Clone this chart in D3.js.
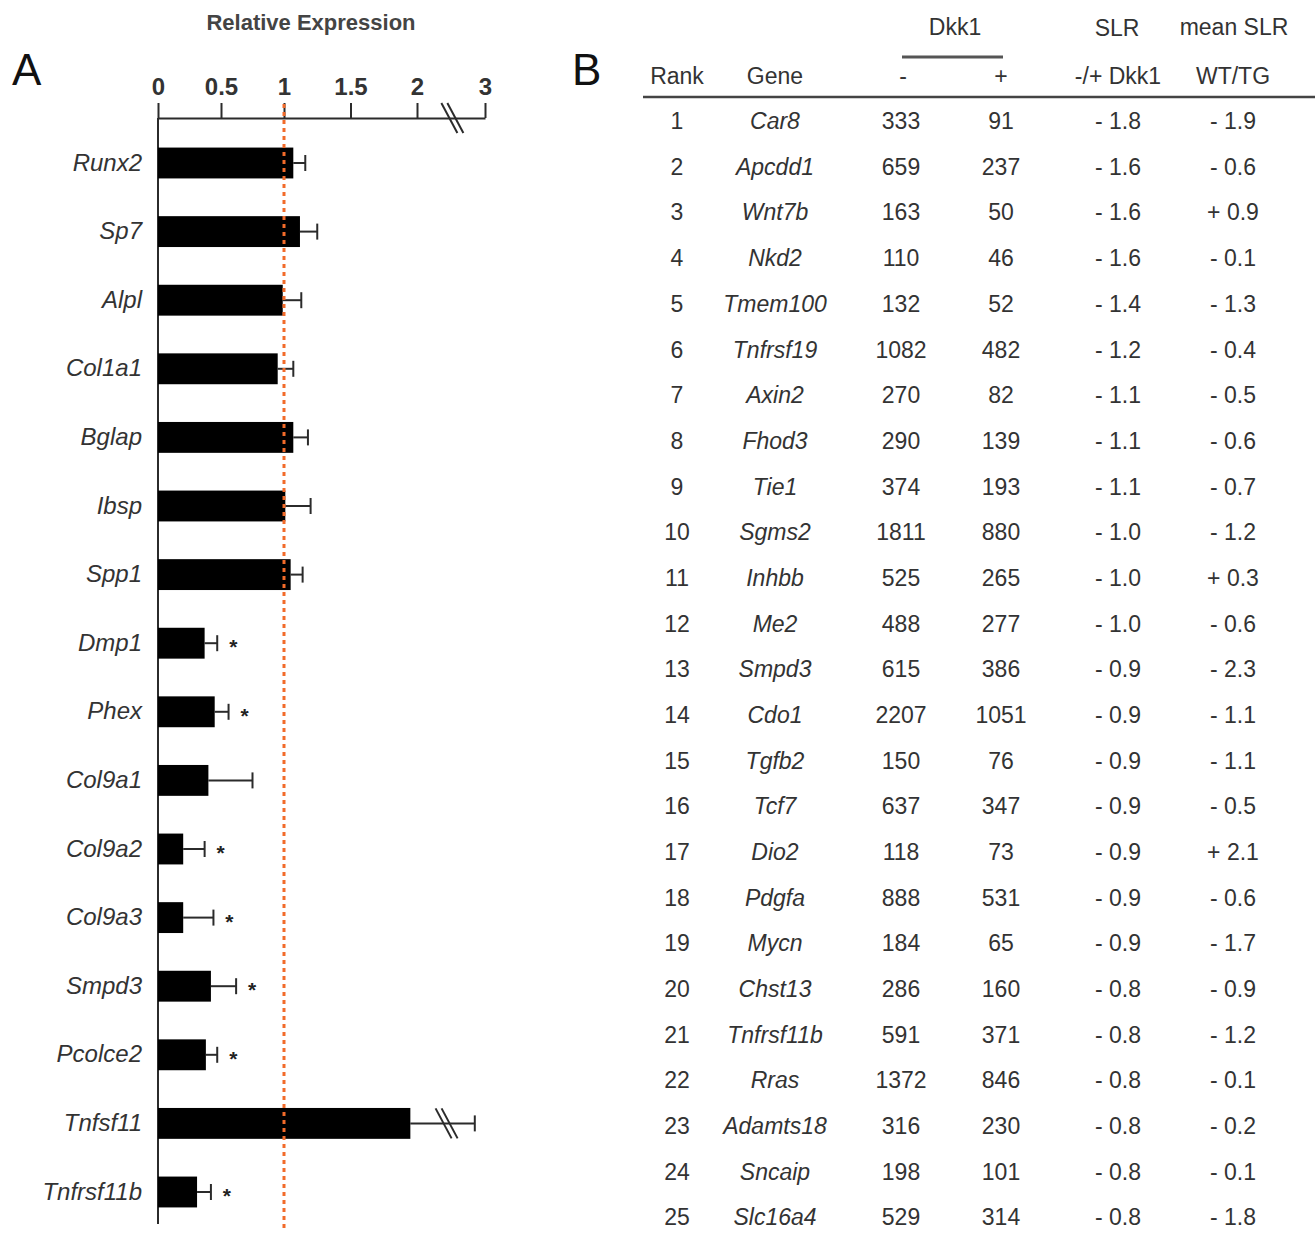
<!DOCTYPE html>
<html>
<head>
<meta charset="utf-8">
<script src="https://cdn.jsdelivr.net/npm/d3@7"></script>
<style>
  html, body { margin: 0; padding: 0; background: #ffffff; }
  svg { display: block; }
  text { font-family: "Liberation Sans", Arial, sans-serif; }
</style>
</head>
<body>
<svg id="chart" width="1315" height="1235"></svg>
<script>
// ---------- Panel A data ----------
const genesA = ["Runx2","Sp7","Alpl","Col1a1","Bglap","Ibsp","Spp1","Dmp1","Phex","Col9a1","Col9a2","Col9a3","Smpd3","Pcolce2","Tnfsf11","Tnfrsf11b"];
const meanA  = [1.07, 1.12, 0.99, 0.95, 1.07, 1.01, 1.05, 0.37, 0.45, 0.40, 0.20, 0.20, 0.42, 0.38, 1.95, 0.31];
const errTopA = [1.16, 1.25, 1.13, 1.07, 1.18, 1.20, 1.14, 0.47, 0.56, 0.75, 0.37, 0.44, 0.62, 0.47, 2.85, 0.42];
const sigA   = [false,false,false,false,false,false,false,true,true,false,true,true,true,true,false,true];
const brokenA = [false,false,false,false,false,false,false,false,false,false,false,false,false,false,true,false];
const xTicksA = [0, 0.5, 1, 1.5, 2, 3];
const xTickLabelsA = ["0","0.5","1","1.5","2","3"];
const axisBreakA = 2.52;
const refValueA = 1;

// ---------- Panel B data ----------
const ranksB = ["1","2","3","4","5","6","7","8","9","10","11","12","13","14","15","16","17","18","19","20","21","22","23","24","25"];
const genesB = ["Car8","Apcdd1","Wnt7b","Nkd2","Tmem100","Tnfrsf19","Axin2","Fhod3","Tie1","Sgms2","Inhbb","Me2","Smpd3","Cdo1","Tgfb2","Tcf7","Dio2","Pdgfa","Mycn","Chst13","Tnfrsf11b","Rras","Adamts18","Sncaip","Slc16a4"];
const dkkMinusB = [333,659,163,110,132,1082,270,290,374,1811,525,488,615,2207,150,637,118,888,184,286,591,1372,316,198,529];
const dkkPlusB  = [91,237,50,46,52,482,82,139,193,880,265,277,386,1051,76,347,73,531,65,160,371,846,230,101,314];
const slrB      = ["- 1.8","- 1.6","- 1.6","- 1.6","- 1.4","- 1.2","- 1.1","- 1.1","- 1.1","- 1.0","- 1.0","- 1.0","- 0.9","- 0.9","- 0.9","- 0.9","- 0.9","- 0.9","- 0.9","- 0.8","- 0.8","- 0.8","- 0.8","- 0.8","- 0.8"];
const meanSlrB  = ["- 1.9","- 0.6","+ 0.9","- 0.1","- 1.3","- 0.4","- 0.5","- 0.6","- 0.7","- 1.2","+ 0.3","- 0.6","- 2.3","- 1.1","- 1.1","- 0.5","+ 2.1","- 0.6","- 1.7","- 0.9","- 1.2","- 0.1","- 0.2","- 0.1","- 1.8"];
const headerTopB = ["Dkk1","SLR","mean SLR"];
const headerB = ["Rank","Gene","-","+","-/+ Dkk1","WT/TG"];

const svg = d3.select("#chart");
const ink = "#2b2b2b";

// ================= Panel A =================
const gA = svg.append("g");
const x = d3.scaleLinear().domain([0, 1, 2, 3]).range([158, 284, 417, 485]);
const y = d3.scaleBand().domain(genesA).range([128.7, 1226.3]).paddingInner(0.55).paddingOuter(0.275);
const axisY = 118;

gA.append("text").attr("x", 12).attr("y", 85).attr("font-size", 44).attr("fill", "#111").text("A");
gA.append("text").attr("x", 311).attr("y", 30).attr("text-anchor", "middle")
  .attr("font-size", 22).attr("font-weight", "bold").attr("fill", "#444").text("Relative Expression");

// top axis
const axTop = d3.axisTop(x).tickValues(xTicksA).tickFormat((d, i) => xTickLabelsA[i])
  .tickSize(15).tickSizeOuter(0).tickPadding(8);
const axG = gA.append("g").attr("transform", `translate(0,${axisY})`).call(axTop);
axG.select(".domain").attr("stroke", ink).attr("stroke-width", 2);
axG.selectAll(".tick line").attr("stroke", ink).attr("stroke-width", 2);
axG.selectAll(".tick text").attr("font-size", 24).attr("font-weight", "bold").attr("fill", "#333")
  .attr("font-family", "'Liberation Sans', Arial, sans-serif");

// break on axis
function breakMark(g, cx, cy) {
  [-3, 3].forEach(o => {
    g.append("line").attr("x1", cx - 8 + o).attr("y1", cy - 15).attr("x2", cx + 8 + o).attr("y2", cy + 15)
      .attr("stroke", ink).attr("stroke-width", 2);
  });
}
breakMark(gA, x(axisBreakA), axisY);

// vertical axis
gA.append("line").attr("x1", x(0)).attr("x2", x(0)).attr("y1", axisY).attr("y2", 1224)
  .attr("stroke", ink).attr("stroke-width", 2);

// left labels
const axL = d3.axisLeft(y).tickSize(0).tickPadding(16);
const alG = gA.append("g").attr("transform", `translate(${x(0)},0)`).call(axL);
alG.select(".domain").remove();
alG.selectAll(".tick text").attr("font-size", 24).attr("font-style", "italic").attr("fill", "#333")
  .attr("font-family", "'Liberation Sans', Arial, sans-serif");

const rowsA = genesA.map((g, i) => ({ g, m: meanA[i], e: errTopA[i], s: sigA[i], b: brokenA[i] }));

// error bars
const eb = gA.append("g").selectAll("g").data(rowsA).join("g");
eb.append("line")
  .attr("x1", d => x(d.m)).attr("x2", d => x(d.e))
  .attr("y1", d => y(d.g) + y.bandwidth() / 2).attr("y2", d => y(d.g) + y.bandwidth() / 2)
  .attr("stroke", ink).attr("stroke-width", 2);
eb.append("line")
  .attr("x1", d => x(d.e)).attr("x2", d => x(d.e))
  .attr("y1", d => y(d.g) + y.bandwidth() / 2 - 8).attr("y2", d => y(d.g) + y.bandwidth() / 2 + 8)
  .attr("stroke", ink).attr("stroke-width", 2);

// bars
gA.append("g").selectAll("rect").data(rowsA).join("rect")
  .attr("x", x(0)).attr("y", d => y(d.g)).attr("width", d => x(d.m) - x(0)).attr("height", y.bandwidth())
  .attr("fill", "#000");

// break on error bar
rowsA.filter(d => d.b).forEach(d => {
  const cy = y(d.g) + y.bandwidth() / 2;
  const bg = gA.append("g");
  breakMark(bg, (x(d.m) + x(d.e)) / 2 + 4, cy);
});

// significance
gA.append("g").selectAll("text").data(rowsA.filter(d => d.s)).join("text")
  .attr("x", d => x(d.e) + 16).attr("y", d => y(d.g) + y.bandwidth() / 2 + 11)
  .attr("text-anchor", "middle").attr("font-size", 21).attr("font-weight", "bold").attr("fill", "#222")
  .text("*");

// reference line
gA.append("line").attr("x1", x(refValueA)).attr("x2", x(refValueA)).attr("y1", 104).attr("y2", 1232)
  .attr("stroke", "#f26b2a").attr("stroke-width", 3).attr("stroke-dasharray", "4,4");

// ================= Panel B =================
const gB = svg.append("g");
gB.append("text").attr("x", 572).attr("y", 85).attr("font-size", 44).attr("fill", "#111").text("B");

const colX = d3.scaleOrdinal().domain(["rank","gene","minus","plus","slr","mean"])
  .range([677, 775, 901, 1001, 1118, 1233]);
const rowY = d3.scaleBand().domain(ranksB).range([98, 1240]);

const hdr = gB.append("g").attr("font-size", 23).attr("fill", "#333").attr("text-anchor", "middle");
const hdrCols = ["rank","gene","minus","plus","slr","mean"];
headerB.forEach((h, i) => {
  hdr.append("text").attr("x", colX(hdrCols[i]) + (i === 2 ? 2 : 0)).attr("y", 84).text(h);
});
hdr.append("text").attr("x", 955).attr("y", 35).text(headerTopB[0]);
hdr.append("text").attr("x", 1117).attr("y", 36).text(headerTopB[1]);
hdr.append("text").attr("x", 1234).attr("y", 35).text(headerTopB[2]);
gB.append("line").attr("x1", 902).attr("x2", 1003).attr("y1", 57).attr("y2", 57)
  .attr("stroke", "#555").attr("stroke-width", 3);
gB.append("line").attr("x1", 643).attr("x2", 1315).attr("y1", 97).attr("y2", 97)
  .attr("stroke", "#444").attr("stroke-width", 2.5);

const rowsB = ranksB.map((r, i) => ({
  r, gene: genesB[i], minus: dkkMinusB[i], plus: dkkPlusB[i], slr: slrB[i], mean: meanSlrB[i]
}));
const rowG = gB.append("g").selectAll("g").data(rowsB).join("g")
  .attr("transform", d => `translate(0,${rowY(d.r) + rowY.bandwidth() / 2})`)
  .attr("font-size", 23).attr("fill", "#333").attr("text-anchor", "middle");
rowG.append("text").attr("x", colX("rank")).attr("dy", "0.36em").text(d => d.r);
rowG.append("text").attr("x", colX("gene")).attr("dy", "0.36em").attr("font-style", "italic").text(d => d.gene);
rowG.append("text").attr("x", colX("minus")).attr("dy", "0.36em").text(d => d.minus);
rowG.append("text").attr("x", colX("plus")).attr("dy", "0.36em").text(d => d.plus);
rowG.append("text").attr("x", colX("slr")).attr("dy", "0.36em").text(d => d.slr);
rowG.append("text").attr("x", colX("mean")).attr("dy", "0.36em").text(d => d.mean);
</script>
</body>
</html>
